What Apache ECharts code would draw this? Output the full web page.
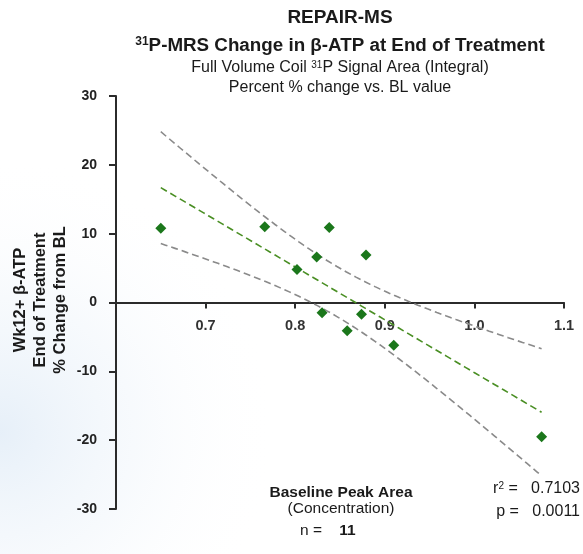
<!DOCTYPE html>
<html>
<head>
<meta charset="utf-8">
<script src="https://cdn.jsdelivr.net/npm/echarts@6/dist/echarts.min.js"></script>
<style>
  html, body { margin: 0; padding: 0; background: #ffffff; }
  #chart { width: 583px; height: 554px; }
</style>
</head>
<body>
<div id="chart"></div>
<script>
// Baseline 31P beta-ATP peak area (x) vs. % change at end of treatment (y), n = 11
const baselineArea = [0.650, 0.766, 0.802, 0.824, 0.838, 0.879, 0.830, 0.874, 0.858, 0.910, 1.075];
const pctChange    = [10.8, 11.0, 4.8, 6.6, 10.9, 6.9, -1.5, -1.7, -4.1, -6.2, -19.5];

const xTicks = { min: 0.6, max: 1.1, step: 0.1 };
const yTicks = { min: -30, max: 30, step: 10 };

const statText = { r2: '0.7103', p: '0.0011', n: '11' };

// Least-squares fit with 95% confidence band of the mean response
const T_975_DF9 = 2.262;
function fitBands(xs, ys) {
  const n = xs.length;
  const mx = xs.reduce((a, b) => a + b, 0) / n;
  const my = ys.reduce((a, b) => a + b, 0) / n;
  let sxx = 0, sxy = 0;
  for (let i = 0; i < n; i++) {
    sxx += (xs[i] - mx) * (xs[i] - mx);
    sxy += (xs[i] - mx) * (ys[i] - my);
  }
  const slope = sxy / sxx;
  const icpt = my - slope * mx;
  let sse = 0;
  for (let i = 0; i < n; i++) {
    const r = ys[i] - (icpt + slope * xs[i]);
    sse += r * r;
  }
  const s = Math.sqrt(sse / (n - 2));
  const x0 = Math.min(...xs), x1 = Math.max(...xs);
  const fit = [], upper = [], lower = [];
  const steps = 80;
  for (let k = 0; k <= steps; k++) {
    const x = x0 + (x1 - x0) * k / steps;
    const yhat = icpt + slope * x;
    const half = T_975_DF9 * s * Math.sqrt(1 / n + (x - mx) * (x - mx) / sxx);
    fit.push([x, yhat]);
    upper.push([x, yhat + half]);
    lower.push([x, yhat - half]);
  }
  return { fit, upper, lower };
}

const bands = fitBands(baselineArea, pctChange);
const points = baselineArea.map((x, i) => [x, pctChange[i]]);

const FONT = '"Liberation Sans", Arial, sans-serif';
const dashed = [7, 4];
const INK = '#1a1a1a';

const GRID = { left: 116, right: 19, top: 96, bottom: 45 };
const plotHeight = 554 - GRID.top - GRID.bottom;
const plotCenterX = GRID.left + (583 - GRID.left - GRID.right) / 2;
// the x axis sits on y = 0, lifted up from the bottom edge of the grid
const xAxisLift = plotHeight * (0 - yTicks.min) / (yTicks.max - yTicks.min);

// superscript-capable rich styles
function richSet(size, bold) {
  const w = bold ? 'bold' : 'normal';
  return {
    n:   { fontFamily: FONT, fontWeight: w, fontSize: size, lineHeight: size + 4, verticalAlign: 'top' },
    b:   { fontFamily: FONT, fontWeight: 'bold', fontSize: size, lineHeight: size + 4, verticalAlign: 'top' },
    sup: { fontFamily: FONT, fontWeight: w, fontSize: Math.round(size * 0.62), lineHeight: Math.round(size * 0.75), verticalAlign: 'top' }
  };
}

const chart = echarts.init(document.getElementById('chart'), null, { renderer: 'canvas' });

chart.setOption({
  backgroundColor: '#ffffff',
  animation: false,
  grid: Object.assign({ outerBoundsMode: 'none' }, GRID),
  xAxis: {
    type: 'value',
    min: xTicks.min, max: xTicks.max, interval: xTicks.step,
    offset: -xAxisLift,
    axisLine: { onZero: false, lineStyle: { color: '#2b2b2b', width: 2 } },
    axisTick: { show: true, length: 6, lineStyle: { color: '#2b2b2b', width: 2 } },
    axisLabel: {
      margin: 16,
      color: '#333',
      fontFamily: FONT, fontWeight: 'bold', fontSize: 14.5,
      formatter: v => Math.abs(v - xTicks.min) < 1e-6 ? '' : v.toFixed(1)
    },
    splitLine: { show: false }
  },
  yAxis: {
    type: 'value',
    min: yTicks.min, max: yTicks.max, interval: yTicks.step,
    axisLine: { show: true, onZero: false, lineStyle: { color: '#2b2b2b', width: 2 } },
    axisTick: { show: true, length: 7, lineStyle: { color: '#2b2b2b', width: 2 } },
    axisLabel: {
      margin: 19,
      color: '#222',
      fontFamily: FONT, fontWeight: 'bold', fontSize: 14
    },
    splitLine: { show: false }
  },
  series: [
    {
      type: 'line', data: bands.upper, showSymbol: false, silent: true,
      lineStyle: { color: '#8a8a8a', width: 1.6, type: dashed }
    },
    {
      type: 'line', data: bands.lower, showSymbol: false, silent: true,
      lineStyle: { color: '#8a8a8a', width: 1.6, type: dashed }
    },
    {
      type: 'line', data: bands.fit, showSymbol: false, silent: true,
      lineStyle: { color: '#4a8f24', width: 1.6, type: dashed }
    },
    {
      type: 'scatter', data: points, symbol: 'diamond', symbolSize: 11,
      itemStyle: { color: '#1b771b', opacity: 1 }, z: 5
    }
  ],
  graphic: [
    {
      type: 'rect', left: 0, top: 0, z: -10, silent: true,
      shape: { width: 583, height: 554 },
      style: {
        fill: new echarts.graphic.RadialGradient(0, 0.78, 0.5, [
          { offset: 0, color: 'rgba(206,224,242,0.5)' },
          { offset: 0.5, color: 'rgba(225,236,247,0.25)' },
          { offset: 1, color: 'rgba(255,255,255,0)' }
        ])
      }
    },
    // y-axis title, three stacked lines reading bottom-to-top
    {
      type: 'text', x: 40, y: 300, rotation: Math.PI / 2,
      style: {
        text: 'Wk12+ β-ATP\nEnd of Treatment\n% Change from BL',
        fill: INK, font: 'bold 16.5px ' + FONT, lineHeight: 20,
        align: 'center', verticalAlign: 'middle'
      }
    },
    {
      type: 'text', x: plotCenterX, y: 8,
      style: { text: 'REPAIR-MS', fill: INK, font: 'bold 19px ' + FONT, align: 'center' }
    },
    {
      type: 'text', x: plotCenterX, y: 36,
      style: {
        text: '{sup|31}{n|P-MRS Change in β-ATP at End of Treatment}',
        fill: INK, align: 'center', rich: richSet(18.8, true)
      }
    },
    {
      type: 'text', x: plotCenterX, y: 60,
      style: {
        text: '{n|Full Volume Coil }{sup|31}{n|P Signal Area (Integral)}',
        fill: INK, align: 'center', rich: richSet(16, false)
      }
    },
    {
      type: 'text', x: plotCenterX, y: 80,
      style: { text: 'Percent % change vs. BL value', fill: INK, font: '16px ' + FONT, align: 'center' }
    },
    {
      type: 'text', x: 341, y: 485,
      style: { text: 'Baseline Peak Area', fill: INK, font: 'bold 15.5px ' + FONT, align: 'center' }
    },
    {
      type: 'text', x: 341, y: 501,
      style: { text: '(Concentration)', fill: INK, font: '15.5px ' + FONT, align: 'center' }
    },
    {
      type: 'text', x: 300, y: 523,
      style: {
        text: '{n|n =    }{b|' + statText.n + '}',
        fill: INK, rich: richSet(15.5, false)
      }
    },
    {
      type: 'text', x: 580, y: 481,
      style: {
        text: '{n|r}{sup|2}{n| =   ' + statText.r2 + '}',
        fill: INK, align: 'right', rich: richSet(16, false)
      }
    },
    {
      type: 'text', x: 580, y: 504,
      style: { text: 'p =   ' + statText.p, fill: INK, font: '16px ' + FONT, align: 'right' }
    }
  ]
});
</script>
</body>
</html>
